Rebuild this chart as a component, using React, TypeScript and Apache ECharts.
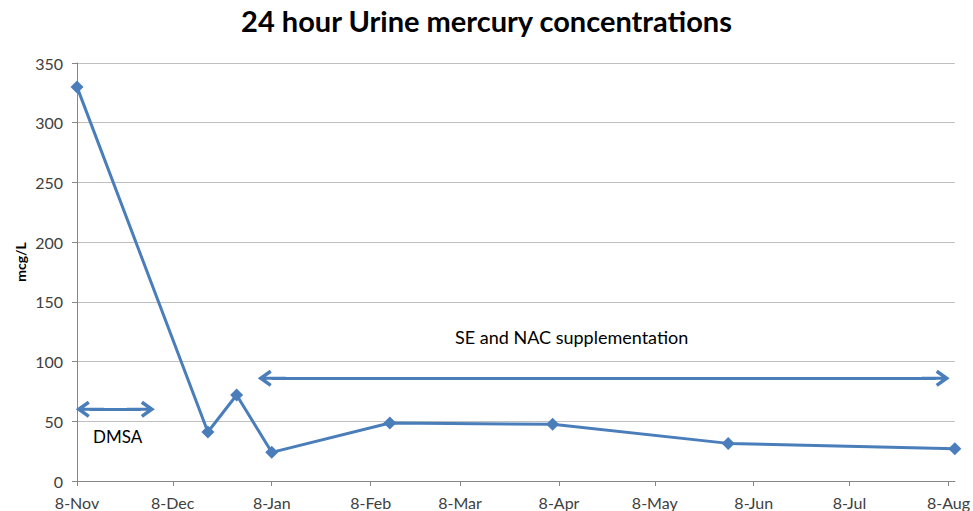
import React, { useEffect, useRef } from "react";
import * as echarts from "echarts";

const sampleDates = ["2012-11-08", "2012-12-19", "2012-12-28", "2013-01-08", "2013-02-14", "2013-04-06", "2013-05-31", "2013-08-10"];
const mercuryValues = [330, 41, 72, 24, 48.5, 47.5, 31.5, 27];
const tickDates = ["2012-11-08", "2012-12-08", "2013-01-08", "2013-02-08", "2013-03-08", "2013-04-08", "2013-05-08", "2013-06-08", "2013-07-08", "2013-08-08"];
const tickLabels = ["8-Nov", "8-Dec", "8-Jan", "8-Feb", "8-Mar", "8-Apr", "8-May", "8-Jun", "8-Jul", "8-Aug"];
const axisStart = "2012-11-08";
const axisEnd = "2013-08-10";
const dmsaArrow = { from: "2012-11-12", to: "2012-11-28", level: 60, label: "DMSA" };
const seArrow = { from: "2013-01-08", to: "2013-08-04", level: 86, label: "SE and NAC supplementation" };

const dayOf = (s: string) => {
  const [y, m, d] = s.split("-").map(Number);
  const [y0, m0, d0] = axisStart.split("-").map(Number);
  return Math.round((Date.UTC(y, m - 1, d) - Date.UTC(y0, m0 - 1, d0)) / 86400000);
};

const FONT = "Lato";
const BLUE = "#4a7ebb";
const ARROW = "path://M8.5,0 L17,12 L14.1,14 L10,8.2 L10,28 L7,28 L7,8.2 L2.9,14 L0,12 Z";

export default function App() {
  const ref = useRef<HTMLDivElement>(null);
  useEffect(() => {
    document.body.style.margin = "0";
    const chart = echarts.init(ref.current!, null, { renderer: "svg" });
    const tickDays = tickDates.map(dayOf);
    const labelFor = (v: number) => {
      const i = tickDays.indexOf(Math.round(v));
      return i >= 0 ? tickLabels[i] : "";
    };
    chart.setOption({
      animation: false,
      backgroundColor: "#ffffff",
      title: {
        text: "24 hour Urine mercury concentrations",
        left: "center",
        top: 1,
        textStyle: { fontFamily: FONT, fontWeight: "bold", fontSize: 29, color: "#000" },
      },
      grid: { left: 77, right: 16, top: 63, bottom: 30 },
      xAxis: {
        type: "value",
        min: dayOf(axisStart),
        max: dayOf(axisEnd),
        axisLine: { onZero: false, lineStyle: { color: "#868686", width: 1 } },
        axisTick: { show: true, length: 5, lineStyle: { color: "#868686" }, customValues: tickDays },
        axisLabel: {
          customValues: tickDays,
          formatter: (v: number) => labelFor(v),
          fontFamily: FONT,
          fontSize: 16,
          color: "#404040",
          margin: 13,
          showMinLabel: true,
          showMaxLabel: true,
          hideOverlap: false,
        },
        splitLine: { show: false },
      },
      yAxis: {
        type: "value",
        min: 0,
        max: 350,
        interval: 50,
        axisLine: { show: true, lineStyle: { color: "#868686" } },
        axisTick: { show: true, length: 5, lineStyle: { color: "#868686" } },
        axisLabel: { fontFamily: FONT, fontSize: 16, color: "#404040", margin: 14 },
        splitLine: { lineStyle: { color: "#bfbfbf", width: 1 } },
      },
      series: [
        {
          type: "line",
          data: sampleDates.map((d, i) => [dayOf(d), mercuryValues[i]]),
          symbol: "diamond",
          symbolSize: 13,
          lineStyle: { color: BLUE, width: 3 },
          itemStyle: { color: BLUE },
          emphasis: { disabled: true },
          markLine: {
            silent: true,
            symbol: [ARROW, ARROW],
            symbolSize: [17, 28],
            label: { show: false },
            lineStyle: { color: BLUE, width: 3, type: "solid" },
            data: [dmsaArrow, seArrow].map((a) => [
              { coord: [dayOf(a.from), a.level] },
              { coord: [dayOf(a.to), a.level] },
            ]),
          },
        },
      ],
      graphic: [
        {
          type: "text",
          x: 20,
          y: 262,
          rotation: Math.PI / 2,
          style: { text: "mcg/L", fontFamily: FONT, fontWeight: "bold", fontSize: 14, fill: "#000", align: "center", verticalAlign: "middle" },
        },
        {
          type: "text",
          left: 93,
          top: 428,
          style: { text: dmsaArrow.label, fontFamily: FONT, fontSize: 17, fill: "#000" },
        },
        {
          type: "text",
          left: 455,
          top: 328,
          style: { text: seArrow.label, fontFamily: FONT, fontSize: 18, fill: "#000" },
        },
      ],
    });
    return () => chart.dispose();
  }, []);
  return <div ref={ref} style={{ width: 973, height: 511 }} />;
}
